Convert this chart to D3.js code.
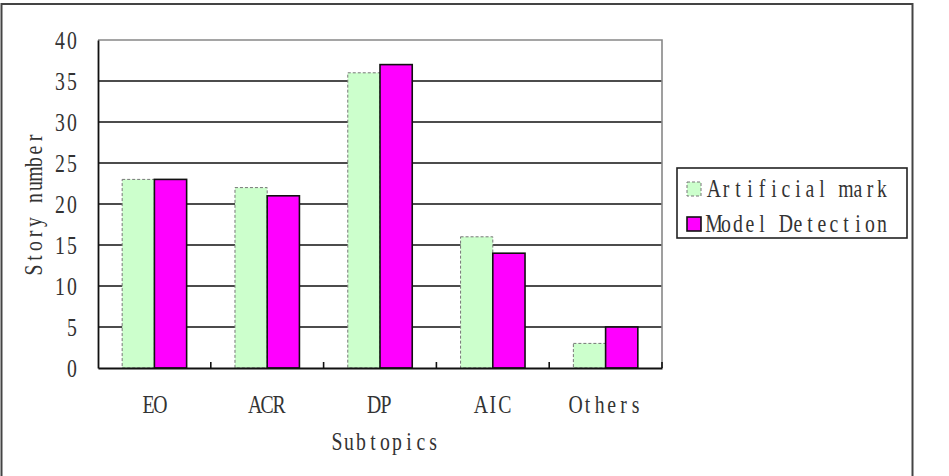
<!DOCTYPE html>
<html>
<head>
<meta charset="utf-8">
<script src="https://cdn.jsdelivr.net/npm/d3@7"></script>
<style>
  body { margin: 0; background: #fff; }
  svg text { font-family: "Liberation Serif", "DejaVu Serif", serif; fill: #333; }
</style>
</head>
<body>
<div id="chart"></div>
<script>
// chart data
var categories = ["EO", "ACR", "DP", "AIC", "Others"];
var seriesNames = ["Artificial mark", "Model Detection"];
var artificialMark = [23, 22, 36, 16, 3];
var modelDetection = [23, 21, 37, 14, 5];
var yTicks = [0, 5, 10, 15, 20, 25, 30, 35, 40];

var width = 949, height = 476;
var margin = {left: 98, top: 40, right: 662, bottom: 368};
var charW = 12;    // half width cell like the CJK font's latin glyphs
var squeeze = 0.76;
var fontSize = 26;

var svg = d3.select("#chart").append("svg")
    .attr("width", width)
    .attr("height", height);

//lay each glyph out in its own fixed cell so the text looks monospaced
function monoText(sel, anchor) {
    sel.each(function() {
        var t = d3.select(this);
        var s = t.text();
        var x0 = +t.attr("x") || 0;
        var w = s.length * charW;
        var start = anchor === "end" ? x0 - w : (anchor === "middle" ? x0 - w / 2 : x0);
        var xs = [];
        for (var i = 0; i < s.length; i++) {
            xs.push(((start + charW * (i + 0.5)) / squeeze).toFixed(2));
        }
        var tr = t.attr("transform") || "";
        t.attr("x", xs.join(" "))
            .attr("text-anchor", "middle")
            .attr("font-size", fontSize)
            .attr("transform", tr + " scale(" + squeeze + ",1)");
    });
}

// outer frame
svg.append("rect")
    .attr("x", 1.5).attr("y", 4)
    .attr("width", 911).attr("height", 480)
    .attr("fill", "none")
    .attr("stroke", "#444")
    .attr("stroke-width", 2);

var x0 = d3.scaleBand()
    .domain(categories)
    .range([margin.left, margin.right])
    .paddingInner(0)
    .paddingOuter(0);

var y = d3.scaleLinear()
    .domain([0, 40])
    .range([margin.bottom, margin.top]);

// gap width of 150% like the spreadsheet chart
var barW = x0.bandwidth() / (seriesNames.length + 1.5);

// gridlines
svg.append("g")
    .selectAll("line")
    .data(yTicks.slice(1, -1))
    .enter().append("line")
    .attr("x1", margin.left).attr("x2", margin.right)
    .attr("y1", function(d) { return y(d); })
    .attr("y2", function(d) { return y(d); })
    .attr("stroke", "#111")
    .attr("stroke-width", 1.6);

// plot area border top/right (gray)
svg.append("path")
    .attr("d", "M" + margin.left + "," + margin.top + "H" + margin.right + "V" + margin.bottom)
    .attr("fill", "none")
    .attr("stroke", "#888")
    .attr("stroke-width", 1.6);

// bars
var seriesData = [artificialMark, modelDetection];
var fills = ["#ccffcc", "#ff00ff"];
var strokes = ["#777", "#111"];
var dashes = ["3,2", null];

seriesData.forEach(function(vals, si) {
    svg.append("g")
        .selectAll("rect")
        .data(vals)
        .enter().append("rect")
        .attr("x", function(d, i) { return x0(categories[i]) + barW * 0.75 + si * barW; })
        .attr("y", function(d) { return y(d); })
        .attr("width", barW)
        .attr("height", function(d) { return y(0) - y(d); })
        .attr("fill", fills[si])
        .attr("stroke", strokes[si])
        .attr("stroke-width", si === 0 ? 1 : 1.6)
        .attr("stroke-dasharray", dashes[si]);
});

// y axis
var yAxis = svg.append("g")
    .attr("transform", "translate(" + margin.left + ",0)")
    .call(d3.axisLeft(y).tickValues(yTicks).tickSize(0).tickPadding(20));
yAxis.select(".domain").attr("stroke", "#111").attr("stroke-width", 1.8);
yAxis.selectAll("text")
    .attr("dy", "0.34em")
    .attr("fill", "#333")
    .call(monoText, "end");

// x axis
var xAxis = svg.append("g")
    .attr("transform", "translate(0," + margin.bottom + ")")
    .call(d3.axisBottom(x0).tickSize(0).tickPadding(27));
xAxis.select(".domain").attr("stroke", "#111").attr("stroke-width", 1.8);
xAxis.selectAll("text")
    .attr("dy", "0.71em")
    .attr("fill", "#333")
    .call(monoText, "middle");

// category divider ticks pointing up
svg.append("g")
    .selectAll("line")
    .data(categories.slice(1).concat(["end"]))
    .enter().append("line")
    .attr("x1", function(d, i) { return margin.left + x0.step() * (i + 1); })
    .attr("x2", function(d, i) { return margin.left + x0.step() * (i + 1); })
    .attr("y1", margin.bottom)
    .attr("y2", margin.bottom - 6)
    .attr("stroke", "#111")
    .attr("stroke-width", 1.6);

// axis titles
svg.append("text")
    .attr("x", 385).attr("y", 450)
    .text("Subtopics")
    .call(monoText, "middle");

svg.append("g")
    .attr("transform", "translate(42,204) rotate(-90)")
    .append("text")
    .attr("x", 0).attr("y", 0)
    .text("Story number")
    .call(monoText, "middle");

// legend
var legend = svg.append("g");
legend.append("rect")
    .attr("x", 677).attr("y", 168)
    .attr("width", 230).attr("height", 70)
    .attr("fill", "#fff")
    .attr("stroke", "#222")
    .attr("stroke-width", 1.6);

var items = legend.selectAll("g.item")
    .data(seriesNames)
    .enter().append("g")
    .attr("class", "item")
    .attr("transform", function(d, i) { return "translate(687," + (182 + i * 35) + ")"; });

items.append("rect")
    .attr("width", 14).attr("height", 14)
    .attr("fill", function(d, i) { return fills[i]; })
    .attr("stroke", function(d, i) { return strokes[i]; })
    .attr("stroke-width", function(d, i) { return i === 0 ? 1 : 1.6; })
    .attr("stroke-dasharray", function(d, i) { return dashes[i]; });

items.append("text")
    .attr("x", 21).attr("y", 15)
    .text(function(d) { return d; })
    .call(monoText, "start");
</script>
</body>
</html>
